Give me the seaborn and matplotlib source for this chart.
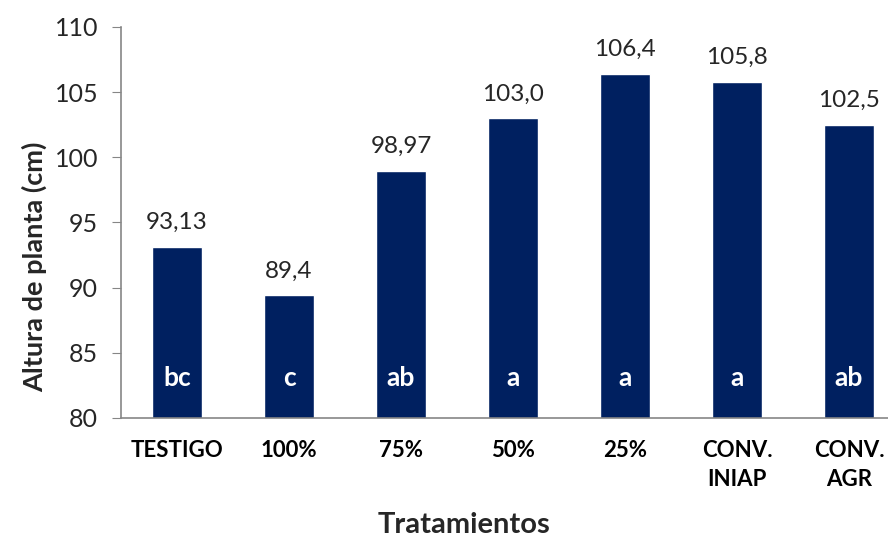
import matplotlib
matplotlib.use("Agg")
import matplotlib.pyplot as plt
import seaborn as sns
import pandas as pd

tratamientos = ["TESTIGO", "100%", "75%", "50%", "25%", "CONV.\nINIAP", "CONV.\nAGR"]
altura = [93.13, 89.4, 98.97, 103.0, 106.4, 105.8, 102.5]
etiquetas = ["93,13", "89,4", "98,97", "103,0", "106,4", "105,8", "102,5"]
letras = ["bc", "c", "ab", "a", "a", "a", "ab"]

sns.set_style("white")
plt.rcParams['font.family'] = ['Lato', 'DejaVu Sans']

df = pd.DataFrame({"Tratamientos": tratamientos, "Altura": altura})

fig = plt.figure(figsize=(8.88, 5.4), dpi=100)
ax = fig.add_axes([121/888, 122/540, 767/888, 391/540])

sns.barplot(x="Tratamientos", y="Altura", data=df, color="#002060", width=0.44,
            saturation=1, ax=ax)

for i, (v, lab, let) in enumerate(zip(altura, etiquetas, letras)):
	ax.annotate(lab, (i, v), xytext=(0, 10), textcoords="offset points",
	            ha="center", va="bottom", fontsize=17.5, color="#262626")
	ax.text(i, 83.1, let, ha="center", va="center", fontsize=19,
	        color="white", fontweight="bold")

ax.set_ylim(80, 110)
ax.set_yticks(range(80, 111, 5))
ax.set_xlim(-0.5, 6.348)
ax.tick_params(axis="y", labelsize=18, labelcolor="#262626", length=6.5,
               left=True, color="#868686", pad=10)
ax.tick_params(axis="x", length=0, pad=16)
for t in ax.get_xticklabels():
	t.set_fontweight("bold")
	t.set_fontsize(16)
	t.set_color("black")
	t.set_linespacing(1.45)

for s in ["top", "right"]:
	ax.spines[s].set_visible(False)
for s in ["left", "bottom"]:
	ax.spines[s].set_color("#868686")
	ax.spines[s].set_linewidth(1.2)

# axis titles placed where the reference puts them (pixel positions -> axes fractions)
ax.set_xlabel("Tratamientos", fontsize=21, fontweight="bold")
ax.xaxis.set_label_coords(343/767, -(512-418)/391)
ax.set_ylabel("Altura de planta (cm)", fontsize=19.5, fontweight="bold")
ax.yaxis.set_label_coords(-(121-47)/767, (418-267)/391)

fig.savefig("out.png", dpi=100)
